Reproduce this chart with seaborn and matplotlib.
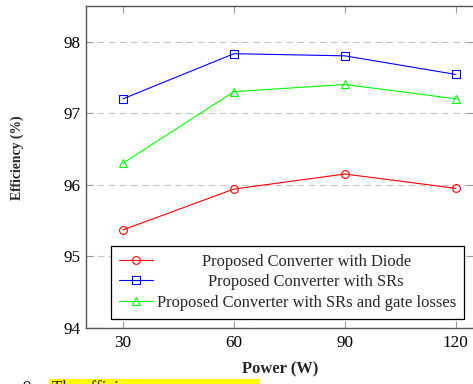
import types
import numpy as np
import pandas as pd
import seaborn as sns
import matplotlib
matplotlib.use("Agg")
import matplotlib.pyplot as plt
from matplotlib.transforms import Bbox
from matplotlib.patches import Rectangle

# ---- data ----
power = [30, 60, 90, 120]
eff_diode = [95.37, 95.94, 96.15, 95.95]
eff_srs = [97.20, 97.83, 97.80, 97.54]
eff_srs_gate = [96.30, 97.30, 97.40, 97.20]
series_labels = ["Proposed Converter with Diode",
                 "Proposed Converter with SRs",
                 "Proposed Converter with SRs and gate losses"]
yticks = [94, 95, 96, 97, 98]
xticks = [30, 60, 90, 120]

sns.set_theme(style="white")
plt.rcParams['font.family'] = ['Liberation Serif', 'DejaVu Serif']

W_PX, H_PX = 473, 384
fig = plt.figure(figsize=(W_PX / 100, H_PX / 100), dpi=100)
left, right, top, bottom = 86, 474, 5.7, 328
ax = fig.add_axes([left / W_PX, 1 - bottom / H_PX, (right - left) / W_PX, (bottom - top) / H_PX])

colors = ["#ff0000", "#0000ff", "#00ff00"]
markers = ["o", "s", "^"]
msizes = [5.6, 5.4, 5.6]
for vals, lab, c, m, ms in zip([eff_diode, eff_srs, eff_srs_gate], series_labels, colors, markers, msizes):
    df = pd.DataFrame({"Power": power, "Eff": vals})
    sns.lineplot(data=df, x="Power", y="Eff", ax=ax, color=c, marker=m, label=lab,
                 markersize=ms, linewidth=0.8, markerfacecolor="none",
                 markeredgecolor=c, markeredgewidth=0.8)
for ln in ax.lines:
    ln.set_markerfacecolor("none")
    ln.set_markeredgecolor(ln.get_color())

ax.set_xlim(20, 124.9)
ax.set_ylim(94, 98.5)
ax.set_xticks(xticks)
ax.set_yticks(yticks)
ax.set_xticklabels([str(v) for v in xticks])
ax.set_yticklabels([str(v) for v in yticks])

ax.yaxis.grid(True, color="#c4c4c4", linestyle=(0, (6, 4)), linewidth=0.8)
ax.xaxis.grid(False)
ax.set_axisbelow(True)

for s in ax.spines.values():
    s.set_color("#555555")
    s.set_linewidth(1.0)
    s.set_visible(True)

ax.tick_params(axis="both", direction="in", length=5, width=0.8, color="#999999",
               labelsize=12.3, labelcolor="black", top=True, right=True, bottom=True, left=True)
ax.tick_params(axis="x", pad=5)
ax.tick_params(axis="y", pad=4)

ax.set_xlabel("Power (W)", fontsize=11.9, fontweight="bold")
ax.set_ylabel("Efficiency (%)", fontsize=9.8, fontweight="bold")
ax.xaxis.set_label_coords(0.5, -0.105)
ax.yaxis.set_label_coords(-0.16, (bottom - 158) / (bottom - top))

handles, labels = ax.get_legend_handles_labels()
leg = ax.legend(handles, labels, loc="upper left",
                bbox_to_anchor=(110.7 / W_PX, 1 - 245.7 / H_PX), bbox_transform=fig.transFigure,
                borderaxespad=0, fontsize=11.9, frameon=True, fancybox=False,
                edgecolor="black", framealpha=1, handlelength=2.06, handletextpad=0.24,
                borderpad=0.48, labelspacing=0.28, numpoints=1)
leg.get_frame().set_linewidth(0.9)

# center legend texts within the column
fig.canvas.draw()
renderer = fig.canvas.get_renderer()
tas = [hp.get_children()[1] for col in leg._legend_handle_box.get_children() for hp in col.get_children()]
Wmax = max(ta.get_bbox(renderer).width for ta in tas)
extra = 0.5
for ta in tas:
    ta._text.set_horizontalalignment("center")
    orig = ta.get_bbox

    def gb(self, renderer, orig=orig):
        b = orig(renderer)
        return Bbox.from_bounds(-Wmax / 2, b.y0, Wmax + extra, b.height)
    ta.get_bbox = types.MethodType(gb, ta)

# partial caption below (cropped in the reference)
fig.patches.append(Rectangle((49 / W_PX, 0), (260 - 49) / W_PX, (384 - 379) / H_PX,
                             transform=fig.transFigure, facecolor="#ffff00", edgecolor="none", zorder=0))
fig.text(22 / W_PX, 1 - 392 / H_PX, "9.", fontsize=12.3, va="baseline", ha="left")
fig.text(52 / W_PX, 1 - 392 / H_PX, "The efficiency", fontsize=12.3, va="baseline", ha="left")

fig.savefig("out.png", dpi=100)
